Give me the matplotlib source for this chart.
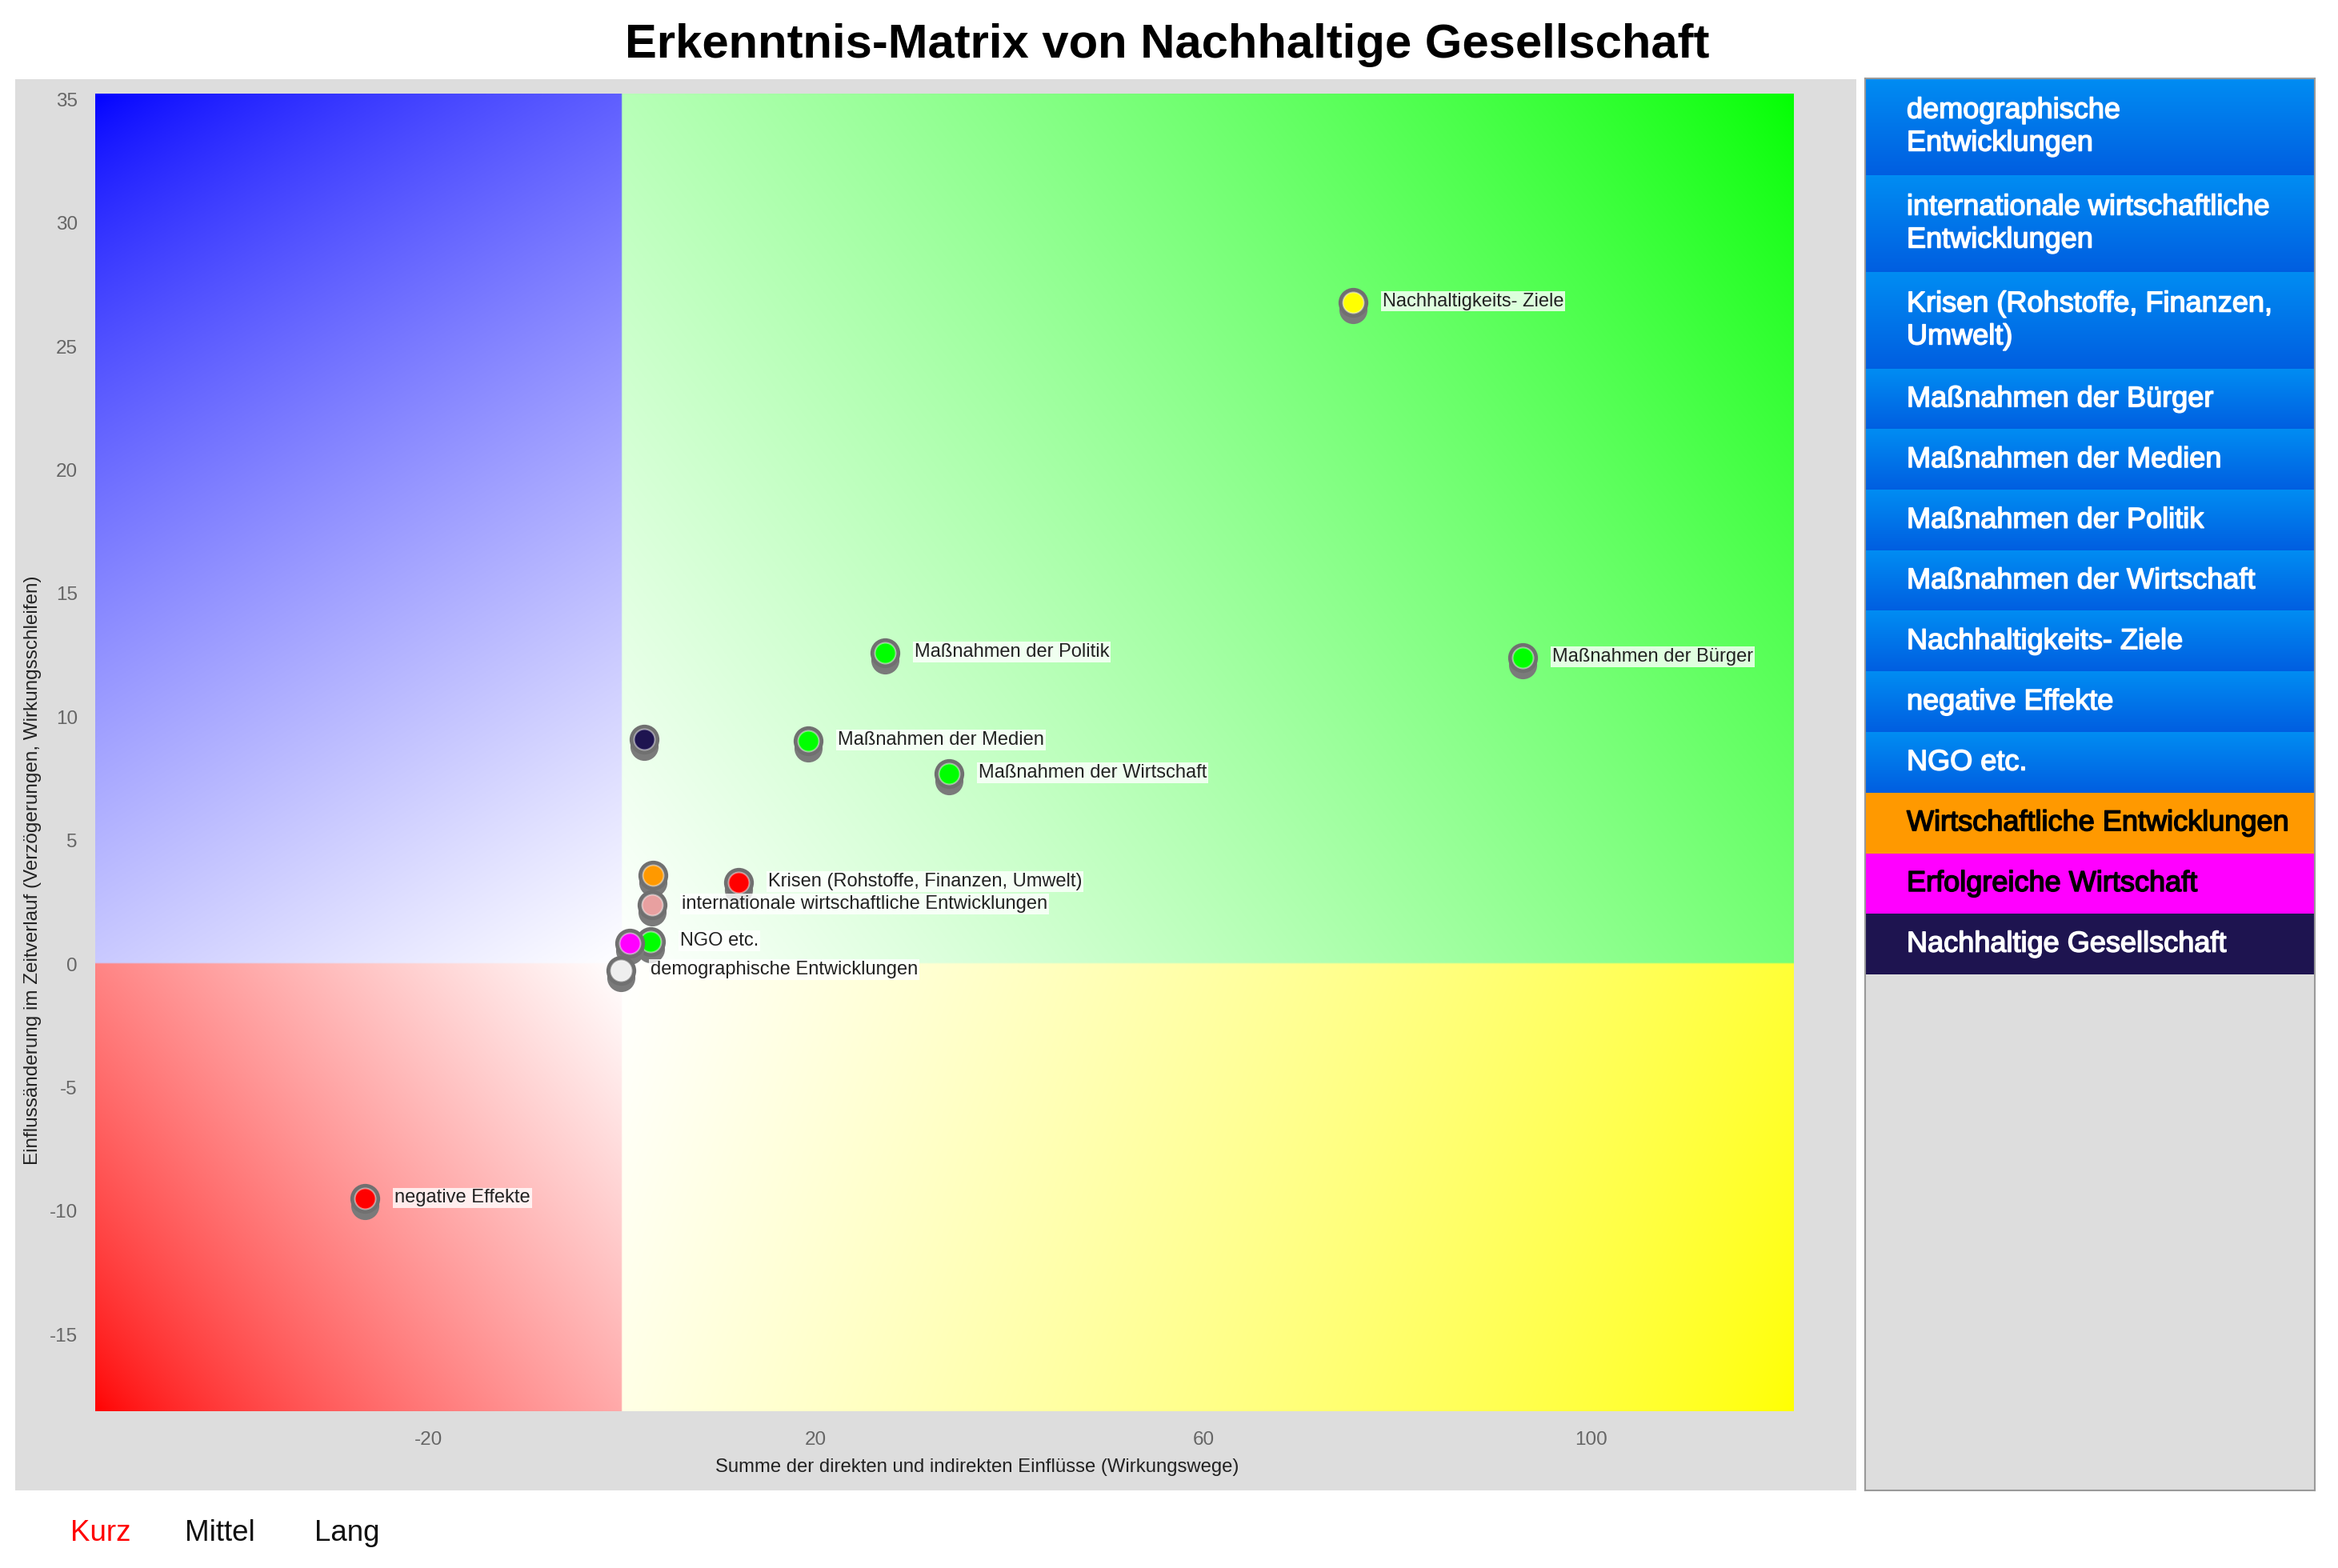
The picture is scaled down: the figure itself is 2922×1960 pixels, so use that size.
import numpy as np
import matplotlib.pyplot as plt
import matplotlib.patheffects as pe
from matplotlib.patches import Rectangle
from matplotlib.transforms import ScaledTranslation

plt.rcParams['font.family'] = ['Liberation Sans', 'DejaVu Sans']
plt.rcParams['axes.unicode_minus'] = False

# ---- data ----
names = ['Nachhaltigkeits- Ziele', 'Maßnahmen der Politik', 'Maßnahmen der Bürger',
         'Maßnahmen der Medien', 'Maßnahmen der Wirtschaft', 'Nachhaltige Gesellschaft',
         'Wirtschaftliche Entwicklungen', 'Krisen (Rohstoffe, Finanzen, Umwelt)',
         'internationale wirtschaftliche Entwicklungen', 'NGO etc.',
         'Erfolgreiche Wirtschaft', 'demographische Entwicklungen', 'negative Effekte']
x_vals = [75.4, 27.1, 92.9, 19.2, 33.7, 2.3, 3.2, 12.0, 3.1, 2.9, 0.8, -0.15, -26.5]
y_vals = [26.8, 12.6, 12.4, 9.05, 7.7, 9.1, 3.6, 3.3, 2.4, 0.9, 0.85, -0.25, -9.5]
point_colors = ['#ffff00', '#00ff00', '#00ff00', '#00ff00', '#00ff00', '#1e1450',
                '#ff9900', '#ff0000', '#e8a0a0', '#00ff00', '#ff00ff', '#eeeeee', '#ff0000']
show_label = [True, True, True, True, True, False, False, True, True, True, False, True, True]

legend_labels = ['demographische\nEntwicklungen', 'internationale wirtschaftliche\nEntwicklungen',
                 'Krisen (Rohstoffe, Finanzen,\nUmwelt)', 'Maßnahmen der Bürger',
                 'Maßnahmen der Medien', 'Maßnahmen der Politik', 'Maßnahmen der Wirtschaft',
                 'Nachhaltigkeits- Ziele', 'negative Effekte', 'NGO etc.',
                 'Wirtschaftliche Entwicklungen', 'Erfolgreiche Wirtschaft', 'Nachhaltige Gesellschaft']
legend_colors = ['blue'] * 10 + ['#ff9900', '#ff00ff', '#1e1450']
legend_text_colors = ['white'] * 10 + ['black', 'black', 'white']

x_ticks = [-20, 20, 60, 100]
y_ticks = [-15, -10, -5, 0, 5, 10, 15, 20, 25, 30, 35]
horizon_labels = ['Kurz', 'Mittel', 'Lang']
horizon_colors = ['#ff0000', '#111111', '#111111']

# ---- figure ----
W, H = 2922, 1960
fig = plt.figure(figsize=(W / 100, H / 100), dpi=100)

# gray chart panel
fig.patches.append(Rectangle((19 / W, 1 - 1863 / H), (2320 - 19) / W, (1863 - 99) / H,
                             transform=fig.transFigure, facecolor='#dddddd',
                             edgecolor='none', zorder=-5))

ax_l, ax_r, ax_t, ax_b = 119, 2242, 117, 1764
ax = fig.add_axes([ax_l / W, 1 - ax_b / H, (ax_r - ax_l) / W, (ax_b - ax_t) / H])
ax.set_zorder(2)
xmin, xmax = -54.35, 120.9
ymin, ymax = -18.1, 35.24
ax.set_xlim(xmin, xmax)
ax.set_ylim(ymin, ymax)
ax.set_facecolor('none')
for s in ax.spines.values():
    s.set_visible(False)

# quadrant gradients
kx = (ax_r - ax_l) / (xmax - xmin)
ky = (ax_b - ax_t) / (ymax - ymin)
gx = np.linspace(xmin, xmax, 1400)
gy = np.linspace(ymin, ymax, 900)
X, Y = np.meshgrid(gx, gy)
Wq = np.where(X < 0, -xmin, xmax) * kx
Hq = np.where(Y > 0, ymax, -ymin) * ky
s = (np.abs(X) * kx * Wq + np.abs(Y) * ky * Hq) / (Wq ** 2 + Hq ** 2)
w = (1 - np.clip(s, 0, 1)) ** 0.75
base = np.zeros(X.shape + (3,))
base[(X < 0) & (Y > 0)] = [0, 0, 1]
base[(X >= 0) & (Y > 0)] = [0, 1, 0]
base[(X < 0) & (Y <= 0)] = [1, 0, 0]
base[(X >= 0) & (Y <= 0)] = [1, 1, 0]
img = base * (1 - w[..., None]) + w[..., None]
ax.imshow(img, extent=[xmin, xmax, ymin, ymax], origin='lower', aspect='auto',
          interpolation='bilinear', zorder=0)

# points: gray shadow, gray ring, coloured dot
shadow = ax.transData + ScaledTranslation(0, -0.09, fig.dpi_scale_trans)
for i in range(len(names)):
    z = 3 + i * 3
    ax.scatter([x_vals[i]], [y_vals[i]], s=640, color='#7a7a7a', zorder=z, transform=shadow,
               linewidths=0)
    ax.scatter([x_vals[i]], [y_vals[i]], s=720, color='#707070', zorder=z + 1, linewidths=0)
    ax.scatter([x_vals[i]], [y_vals[i]], s=350, color=point_colors[i], zorder=z + 2,
               edgecolors=(1, 1, 1, 0.45), linewidths=1.5)
    if show_label[i]:
        ax.annotate(names[i], (x_vals[i], y_vals[i]), xytext=(37, 1), textcoords='offset pixels',
                    ha='left', va='center', fontsize=17, color='#222222', zorder=100,
                    bbox=dict(boxstyle='square,pad=0.08', facecolor='white', alpha=0.8,
                              edgecolor='none'))

ax.set_xticks(x_ticks)
ax.set_yticks(y_ticks)
ax.tick_params(length=0, labelsize=17.5, labelcolor='#666666')
ax.tick_params(axis='x', pad=18)
ax.tick_params(axis='y', pad=16)
ax.set_xlabel('Summe der direkten und indirekten Einflüsse (Wirkungswege)', fontsize=17.2,
              color='#222222')
ax.set_ylabel('Einflussänderung im Zeitverlauf (Verzögerungen, Wirkungsschleifen)',
              fontsize=17.5, color='#222222')
ax.xaxis.set_label_coords(0.519, -0.0425)
ax.xaxis.label.set_va('center')
ax.yaxis.set_label_coords(-0.0367, 0.4105)
ax.yaxis.label.set_va('center')

# legend panel
pl, pr, pt, pb = 2331, 2893, 98, 1863
lax = fig.add_axes([pl / W, 1 - pb / H, (pr - pl) / W, (pb - pt) / H])
lax.set_xlim(0, pr - pl)
lax.set_ylim(pb - pt, 0)
lax.set_facecolor('#dddddd')
lax.set_xticks([])
lax.set_yticks([])
for s in lax.spines.values():
    s.set_color('#999999')
    s.set_linewidth(1.5)

blue_grad = np.linspace([0.0, 0.55, 0.95], [0.0, 0.37, 0.88], 50)[:, None, :]
top = 0
for lab, col, tcol in zip(legend_labels, legend_colors, legend_text_colors):
    n = lab.count('\n') + 1
    h = 30.4 + 45.3 * n
    if col == 'blue':
        lax.imshow(blue_grad, extent=[0, pr - pl, top + h, top], aspect='auto',
                   interpolation='bilinear', zorder=1)
    else:
        lax.add_patch(Rectangle((0, top), pr - pl, h, facecolor=col, edgecolor='none', zorder=1))
    lax.text(52, top + h / 2, lab, ha='left', va='center', fontsize=26, color=tcol,
             linespacing=1.22, zorder=2,
             path_effects=[pe.withStroke(linewidth=1.1, foreground=tcol)])
    top += h
lax.set_xlim(0, pr - pl)
lax.set_ylim(pb - pt, 0)

# title and horizon labels
fig.text(1459 / W, 1 - 56 / H, 'Erkenntnis-Matrix von Nachhaltige Gesellschaft', ha='center',
         va='center', fontsize=43, fontweight='bold', color='black')
for lab, col, xp in zip(horizon_labels, horizon_colors, [88, 231, 393]):
    fig.text(xp / W, 1 - 1916 / H, lab, ha='left', va='center', fontsize=26.5, color=col)

fig.savefig('out.png', dpi=100, facecolor='white')
